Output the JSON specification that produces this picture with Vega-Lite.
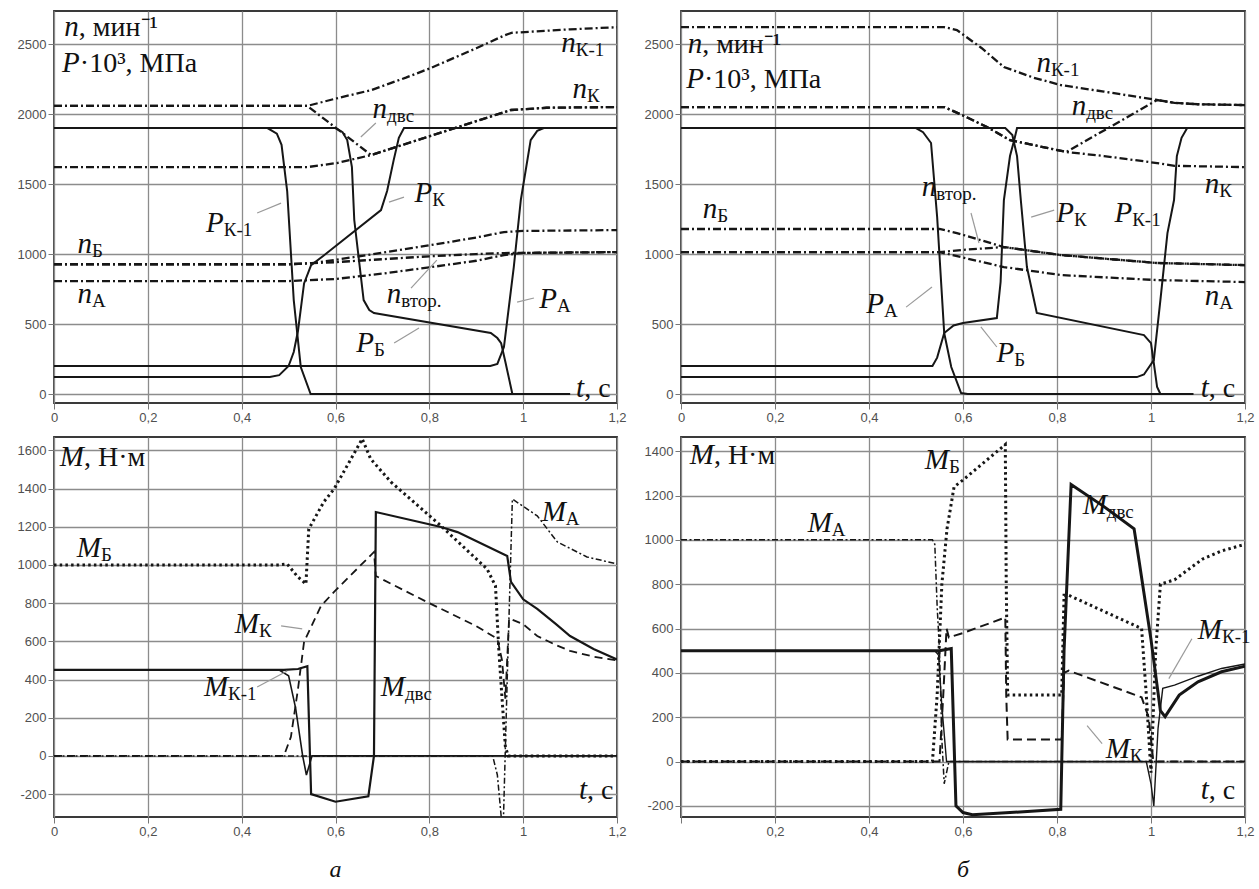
{
"$schema": "https://vega.github.io/schema/vega-lite/v6.json",
"padding": {"left": 16, "top": 10, "right": 0, "bottom": 0},
"spacing": 11,
"resolve": {"scale": {"x": "independent", "y": "independent"}},
"datasets": {
"tl": [
{"s":"nК-1","t":0,"v":2058},{"s":"nК-1","t":0.54,"v":2058},{"s":"nК-1","t":0.6,"v":2110},{"s":"nК-1","t":0.676,"v":2171},{"s":"nК-1","t":0.75,"v":2260},{"s":"nК-1","t":0.804,"v":2330},{"s":"nК-1","t":0.9,"v":2470},{"s":"nК-1","t":0.959,"v":2560},{"s":"nК-1","t":0.975,"v":2580},{"s":"nК-1","t":1.1,"v":2605},{"s":"nК-1","t":1.2,"v":2620},
{"s":"nдвс","t":0,"v":2058},{"s":"nдвс","t":0.54,"v":2058},{"s":"nдвс","t":0.676,"v":1707},{"s":"nдвс","t":0.974,"v":2029},{"s":"nдвс","t":1.05,"v":2045},{"s":"nдвс","t":1.2,"v":2050},
{"s":"nК","t":0,"v":1621},{"s":"nК","t":0.54,"v":1621},{"s":"nК","t":0.603,"v":1650},{"s":"nК","t":0.676,"v":1707},{"s":"nК","t":0.974,"v":2029},{"s":"nК","t":1.05,"v":2045},{"s":"nК","t":1.2,"v":2050},
{"s":"nБ","t":0,"v":927},{"s":"nБ","t":0.5,"v":927},{"s":"nБ","t":0.55,"v":935},{"s":"nБ","t":0.6,"v":958},{"s":"nБ","t":0.7,"v":1010},{"s":"nБ","t":0.8,"v":1062},{"s":"nБ","t":0.9,"v":1118},{"s":"nБ","t":0.959,"v":1157},{"s":"nБ","t":1.0,"v":1165},{"s":"nБ","t":1.2,"v":1171},
{"s":"nвтор","t":0,"v":927},{"s":"nвтор","t":0.5,"v":927},{"s":"nвтор","t":0.6,"v":942},{"s":"nвтор","t":0.7,"v":963},{"s":"nвтор","t":0.8,"v":984},{"s":"nвтор","t":0.9,"v":1000},{"s":"nвтор","t":0.959,"v":1007},{"s":"nвтор","t":1.2,"v":1014},
{"s":"nА","t":0,"v":807},{"s":"nА","t":0.5,"v":807},{"s":"nА","t":0.6,"v":822},{"s":"nА","t":0.7,"v":860},{"s":"nА","t":0.8,"v":905},{"s":"nА","t":0.9,"v":952},{"s":"nА","t":0.959,"v":993},{"s":"nА","t":1.0,"v":1008},{"s":"nА","t":1.2,"v":1014},
{"s":"PК-1","t":0,"v":1900},{"s":"PК-1","t":0.455,"v":1900},{"s":"PК-1","t":0.475,"v":1860},{"s":"PК-1","t":0.485,"v":1780},{"s":"PК-1","t":0.497,"v":1450},{"s":"PК-1","t":0.511,"v":671},{"s":"PК-1","t":0.526,"v":193},{"s":"PК-1","t":0.547,"v":0},{"s":"PК-1","t":1.1,"v":0},
{"s":"PК","t":0,"v":121},{"s":"PК","t":0.46,"v":121},{"s":"PК","t":0.48,"v":135},{"s":"PК","t":0.5,"v":200},{"s":"PК","t":0.511,"v":300},{"s":"PК","t":0.52,"v":450},{"s":"PК","t":0.533,"v":790},{"s":"PК","t":0.548,"v":920},{"s":"PК","t":0.575,"v":990},{"s":"PК","t":0.697,"v":1314},{"s":"PК","t":0.71,"v":1450},{"s":"PК","t":0.724,"v":1671},{"s":"PК","t":0.735,"v":1830},{"s":"PК","t":0.746,"v":1900},{"s":"PК","t":1.2,"v":1900},
{"s":"PБ","t":0,"v":1900},{"s":"PБ","t":0.6,"v":1900},{"s":"PБ","t":0.615,"v":1870},{"s":"PБ","t":0.625,"v":1814},{"s":"PБ","t":0.635,"v":1621},{"s":"PБ","t":0.64,"v":1243},{"s":"PБ","t":0.66,"v":671},{"s":"PБ","t":0.672,"v":600},{"s":"PБ","t":0.682,"v":579},{"s":"PБ","t":0.931,"v":436},{"s":"PБ","t":0.945,"v":400},{"s":"PБ","t":0.953,"v":364},{"s":"PБ","t":0.962,"v":230},{"s":"PБ","t":0.977,"v":0},{"s":"PБ","t":1.1,"v":0},
{"s":"PА","t":0,"v":200},{"s":"PА","t":0.93,"v":200},{"s":"PА","t":0.945,"v":215},{"s":"PА","t":0.959,"v":336},{"s":"PА","t":0.98,"v":907},{"s":"PА","t":0.995,"v":1386},{"s":"PА","t":1.016,"v":1814},{"s":"PА","t":1.03,"v":1880},{"s":"PА","t":1.044,"v":1900},{"s":"PА","t":1.2,"v":1900}
],
"tr": [
{"s":"nК-1","t":0,"v":2621},{"s":"nК-1","t":0.56,"v":2621},{"s":"nК-1","t":0.587,"v":2600},{"s":"nК-1","t":0.64,"v":2470},{"s":"nК-1","t":0.687,"v":2336},{"s":"nК-1","t":0.75,"v":2260},{"s":"nК-1","t":0.808,"v":2207},{"s":"nК-1","t":0.9,"v":2160},{"s":"nК-1","t":1.013,"v":2100},{"s":"nК-1","t":1.05,"v":2080},{"s":"nК-1","t":1.1,"v":2070},{"s":"nК-1","t":1.2,"v":2064},
{"s":"nдвс","t":0,"v":2050},{"s":"nдвс","t":0.56,"v":2050},{"s":"nдвс","t":0.6,"v":1990},{"s":"nдвс","t":0.651,"v":1907},{"s":"nдвс","t":0.7,"v":1814},{"s":"nдвс","t":0.82,"v":1729},{"s":"nдвс","t":1.013,"v":2100},{"s":"nдвс","t":1.05,"v":2080},{"s":"nдвс","t":1.1,"v":2070},{"s":"nдвс","t":1.2,"v":2064},
{"s":"nК","t":0,"v":2050},{"s":"nК","t":0.56,"v":2050},{"s":"nК","t":0.6,"v":1990},{"s":"nК","t":0.651,"v":1907},{"s":"nК","t":0.7,"v":1814},{"s":"nК","t":0.82,"v":1729},{"s":"nК","t":0.9,"v":1700},{"s":"nК","t":1.013,"v":1650},{"s":"nК","t":1.05,"v":1630},{"s":"nК","t":1.2,"v":1621},
{"s":"nБ","t":0,"v":1179},{"s":"nБ","t":0.55,"v":1179},{"s":"nБ","t":0.587,"v":1150},{"s":"nБ","t":0.687,"v":1050},{"s":"nБ","t":0.808,"v":993},{"s":"nБ","t":1.013,"v":936},{"s":"nБ","t":1.2,"v":921},
{"s":"nвтор","t":0,"v":1014},{"s":"nвтор","t":0.55,"v":1014},{"s":"nвтор","t":0.6,"v":1030},{"s":"nвтор","t":0.687,"v":1050},{"s":"nвтор","t":0.808,"v":993},{"s":"nвтор","t":1.013,"v":936},{"s":"nвтор","t":1.2,"v":921},
{"s":"nА","t":0,"v":1014},{"s":"nА","t":0.55,"v":1014},{"s":"nА","t":0.6,"v":975},{"s":"nА","t":0.687,"v":907},{"s":"nА","t":0.808,"v":850},{"s":"nА","t":1.013,"v":814},{"s":"nА","t":1.2,"v":800},
{"s":"PА","t":0,"v":1900},{"s":"PА","t":0.5,"v":1900},{"s":"PА","t":0.515,"v":1870},{"s":"PА","t":0.532,"v":1793},{"s":"PА","t":0.545,"v":1264},{"s":"PА","t":0.56,"v":436},{"s":"PА","t":0.575,"v":193},{"s":"PА","t":0.596,"v":7},{"s":"PА","t":0.61,"v":0},{"s":"PА","t":1.09,"v":0},
{"s":"PБ","t":0,"v":200},{"s":"PБ","t":0.535,"v":200},{"s":"PБ","t":0.545,"v":260},{"s":"PБ","t":0.56,"v":436},{"s":"PБ","t":0.58,"v":490},{"s":"PБ","t":0.6,"v":507},{"s":"PБ","t":0.672,"v":543},{"s":"PБ","t":0.68,"v":800},{"s":"PБ","t":0.687,"v":1386},{"s":"PБ","t":0.7,"v":1700},{"s":"PБ","t":0.709,"v":1814},{"s":"PБ","t":0.715,"v":1900},{"s":"PБ","t":1.2,"v":1900},
{"s":"PК","t":0,"v":1900},{"s":"PК","t":0.69,"v":1900},{"s":"PК","t":0.705,"v":1850},{"s":"PК","t":0.715,"v":1700},{"s":"PК","t":0.723,"v":1386},{"s":"PК","t":0.736,"v":907},{"s":"PК","t":0.757,"v":579},{"s":"PК","t":0.985,"v":421},{"s":"PК","t":1.0,"v":364},{"s":"PК","t":1.006,"v":221},{"s":"PК","t":1.013,"v":50},{"s":"PК","t":1.02,"v":0},{"s":"PК","t":1.09,"v":0},
{"s":"PК-1","t":0,"v":121},{"s":"PК-1","t":0.97,"v":121},{"s":"PК-1","t":0.985,"v":140},{"s":"PК-1","t":1.006,"v":243},{"s":"PК-1","t":1.02,"v":671},{"s":"PК-1","t":1.035,"v":1150},{"s":"PК-1","t":1.049,"v":1386},{"s":"PК-1","t":1.055,"v":1700},{"s":"PК-1","t":1.065,"v":1830},{"s":"PК-1","t":1.077,"v":1900},{"s":"PК-1","t":1.2,"v":1900}
],
"bl": [
{"s":"MБ","t":0,"v":1000},{"s":"MБ","t":0.48,"v":1000},{"s":"MБ","t":0.497,"v":1005},{"s":"MБ","t":0.518,"v":942},{"s":"MБ","t":0.537,"v":900},{"s":"MБ","t":0.543,"v":1188},{"s":"MБ","t":0.575,"v":1330},{"s":"MБ","t":0.597,"v":1398},{"s":"MБ","t":0.657,"v":1660},{"s":"MБ","t":0.675,"v":1555},{"s":"MБ","t":0.718,"v":1435},{"s":"MБ","t":0.825,"v":1204},{"s":"MБ","t":0.923,"v":979},{"s":"MБ","t":0.941,"v":890},{"s":"MБ","t":0.948,"v":560},{"s":"MБ","t":0.955,"v":300},{"s":"MБ","t":0.962,"v":50},{"s":"MБ","t":0.968,"v":0},{"s":"MБ","t":1.2,"v":0},
{"s":"MК","t":0,"v":0},{"s":"MК","t":0.49,"v":0},{"s":"MК","t":0.505,"v":100},{"s":"MК","t":0.52,"v":350},{"s":"MК","t":0.533,"v":597},{"s":"MК","t":0.569,"v":785},{"s":"MК","t":0.597,"v":859},{"s":"MК","t":0.682,"v":1068},{"s":"MК","t":0.686,"v":942},{"s":"MК","t":0.795,"v":806},{"s":"MК","t":0.9,"v":680},{"s":"MК","t":0.945,"v":613},{"s":"MК","t":0.955,"v":500},{"s":"MК","t":0.962,"v":300},{"s":"MК","t":0.97,"v":720},{"s":"MК","t":1.0,"v":690},{"s":"MК","t":1.03,"v":628},{"s":"MК","t":1.07,"v":580},{"s":"MК","t":1.1,"v":550},{"s":"MК","t":1.15,"v":520},{"s":"MК","t":1.2,"v":500},
{"s":"Mдвс","t":0,"v":450},{"s":"Mдвс","t":0.49,"v":450},{"s":"Mдвс","t":0.52,"v":455},{"s":"Mдвс","t":0.54,"v":470},{"s":"Mдвс","t":0.548,"v":-200},{"s":"Mдвс","t":0.6,"v":-240},{"s":"Mдвс","t":0.67,"v":-212},{"s":"Mдвс","t":0.682,"v":0},{"s":"Mдвс","t":0.686,"v":1277},{"s":"Mдвс","t":0.825,"v":1199},{"s":"Mдвс","t":0.86,"v":1172},{"s":"Mдвс","t":0.966,"v":1047},{"s":"Mдвс","t":0.974,"v":911},{"s":"Mдвс","t":1.0,"v":820},{"s":"Mдвс","t":1.03,"v":770},{"s":"Mдвс","t":1.07,"v":690},{"s":"Mдвс","t":1.1,"v":628},{"s":"Mдвс","t":1.15,"v":560},{"s":"Mдвс","t":1.2,"v":505},
{"s":"MК-1","t":0,"v":450},{"s":"MК-1","t":0.48,"v":450},{"s":"MК-1","t":0.5,"v":420},{"s":"MК-1","t":0.515,"v":250},{"s":"MК-1","t":0.53,"v":0},{"s":"MК-1","t":0.538,"v":-100},{"s":"MК-1","t":0.55,"v":0},{"s":"MК-1","t":1.2,"v":0},
{"s":"MА","t":0,"v":0},{"s":"MА","t":0.935,"v":0},{"s":"MА","t":0.945,"v":-100},{"s":"MА","t":0.957,"v":-420},{"s":"MА","t":0.966,"v":400},{"s":"MА","t":0.977,"v":1345},{"s":"MА","t":1.03,"v":1257},{"s":"MА","t":1.073,"v":1120},{"s":"MА","t":1.136,"v":1042},{"s":"MА","t":1.2,"v":1005}
],
"br": [
{"s":"MА","t":0,"v":1000},{"s":"MА","t":0.535,"v":1000},{"s":"MА","t":0.54,"v":980},{"s":"MА","t":0.545,"v":700},{"s":"MА","t":0.55,"v":500},{"s":"MА","t":0.555,"v":100},{"s":"MА","t":0.56,"v":-100},{"s":"MА","t":0.57,"v":0},{"s":"MА","t":1.2,"v":0},
{"s":"MБ","t":0,"v":0},{"s":"MБ","t":0.535,"v":0},{"s":"MБ","t":0.545,"v":300},{"s":"MБ","t":0.555,"v":800},{"s":"MБ","t":0.566,"v":1050},{"s":"MБ","t":0.581,"v":1239},{"s":"MБ","t":0.6,"v":1270},{"s":"MБ","t":0.69,"v":1430},{"s":"MБ","t":0.692,"v":800},{"s":"MБ","t":0.695,"v":300},{"s":"MБ","t":0.81,"v":300},{"s":"MБ","t":0.815,"v":750},{"s":"MБ","t":0.825,"v":750},{"s":"MБ","t":0.98,"v":600},{"s":"MБ","t":0.99,"v":300},{"s":"MБ","t":1.0,"v":-50},{"s":"MБ","t":1.01,"v":500},{"s":"MБ","t":1.02,"v":800},{"s":"MБ","t":1.05,"v":820},{"s":"MБ","t":1.11,"v":914},{"s":"MБ","t":1.15,"v":950},{"s":"MБ","t":1.2,"v":980},
{"s":"MК","t":0,"v":0},{"s":"MК","t":0.55,"v":0},{"s":"MК","t":0.558,"v":300},{"s":"MК","t":0.565,"v":600},{"s":"MК","t":0.57,"v":560},{"s":"MК","t":0.6,"v":580},{"s":"MК","t":0.69,"v":650},{"s":"MК","t":0.692,"v":300},{"s":"MК","t":0.695,"v":100},{"s":"MК","t":0.81,"v":100},{"s":"MК","t":0.815,"v":400},{"s":"MК","t":0.825,"v":410},{"s":"MК","t":0.98,"v":290},{"s":"MК","t":0.995,"v":200},{"s":"MК","t":1.005,"v":0},{"s":"MК","t":1.2,"v":0},
{"s":"Mдвс","t":0,"v":500},{"s":"Mдвс","t":0.55,"v":500},{"s":"Mдвс","t":0.575,"v":510},{"s":"Mдвс","t":0.585,"v":-200},{"s":"Mдвс","t":0.6,"v":-230},{"s":"Mдвс","t":0.62,"v":-240},{"s":"Mдвс","t":0.7,"v":-230},{"s":"Mдвс","t":0.808,"v":-215},{"s":"Mдвс","t":0.815,"v":500},{"s":"Mдвс","t":0.83,"v":1250},{"s":"Mдвс","t":0.9,"v":1150},{"s":"Mдвс","t":0.964,"v":1050},{"s":"Mдвс","t":0.975,"v":900},{"s":"Mдвс","t":1.0,"v":550},{"s":"Mдвс","t":1.02,"v":230},{"s":"Mдвс","t":1.03,"v":203},{"s":"Mдвс","t":1.06,"v":300},{"s":"Mдвс","t":1.1,"v":360},{"s":"Mдвс","t":1.15,"v":405},{"s":"Mдвс","t":1.2,"v":430},
{"s":"MК-1","t":0,"v":500},{"s":"MК-1","t":0.54,"v":500},{"s":"MК-1","t":0.548,"v":480},{"s":"MК-1","t":0.555,"v":250},{"s":"MК-1","t":0.565,"v":0},{"s":"MК-1","t":0.99,"v":0},{"s":"MК-1","t":1.0,"v":-100},{"s":"MК-1","t":1.006,"v":-200},{"s":"MК-1","t":1.015,"v":150},{"s":"MК-1","t":1.025,"v":330},{"s":"MК-1","t":1.05,"v":345},{"s":"MК-1","t":1.1,"v":385},{"s":"MК-1","t":1.15,"v":420},{"s":"MК-1","t":1.2,"v":440}
],
"lab_tl": [
{"t":0.053,"v":2557,"p":"v","txt":"n"},{"t":0.053,"v":2557,"p":"u","txt":", мин⁻¹"},
{"t":0.055,"v":2300,"p":"v","txt":"P"},{"t":0.055,"v":2300,"p":"u","txt":"·10³, МПа"},
{"t":1.112,"v":2443,"p":"v","txt":"n"},{"t":1.112,"v":2443,"p":"s","txt":"К-1"},
{"t":1.136,"v":2114,"p":"v","txt":"n"},{"t":1.136,"v":2114,"p":"s","txt":"К"},
{"t":0.71,"v":1971,"p":"v","txt":"n"},{"t":0.71,"v":1971,"p":"s","txt":"двс"},
{"t":0.806,"v":1371,"p":"v","txt":"P"},{"t":0.806,"v":1371,"p":"s","txt":"К"},
{"t":0.362,"v":1157,"p":"v","txt":"P"},{"t":0.362,"v":1157,"p":"s","txt":"К-1"},
{"t":0.081,"v":1007,"p":"v","txt":"n"},{"t":0.081,"v":1007,"p":"s","txt":"Б"},
{"t":0.081,"v":650,"p":"v","txt":"n"},{"t":0.081,"v":650,"p":"s","txt":"А"},
{"t":0.74,"v":650,"p":"v","txt":"n"},{"t":0.74,"v":650,"p":"s","txt":"втор."},
{"t":1.072,"v":614,"p":"v","txt":"P"},{"t":1.072,"v":614,"p":"s","txt":"А"},
{"t":0.682,"v":300,"p":"v","txt":"P"},{"t":0.682,"v":300,"p":"s","txt":"Б"},
{"t":1.13,"v":-21,"p":"v","txt":"t"},{"t":1.13,"v":-21,"p":"u","txt":", с"}
],
"lab_tr": [
{"t":0.045,"v":2436,"p":"v","txt":"n"},{"t":0.045,"v":2436,"p":"u","txt":", мин⁻¹"},
{"t":0.049,"v":2186,"p":"v","txt":"P"},{"t":0.049,"v":2186,"p":"u","txt":"·10³, МПа"},
{"t":0.787,"v":2300,"p":"v","txt":"n"},{"t":0.787,"v":2300,"p":"s","txt":"К-1"},
{"t":0.862,"v":1993,"p":"v","txt":"n"},{"t":0.862,"v":1993,"p":"s","txt":"двс"},
{"t":1.145,"v":1436,"p":"v","txt":"n"},{"t":1.145,"v":1436,"p":"s","txt":"К"},
{"t":0.543,"v":1414,"p":"v","txt":"n"},{"t":0.543,"v":1414,"p":"s","txt":"втор."},
{"t":0.836,"v":1229,"p":"v","txt":"P"},{"t":0.836,"v":1229,"p":"s","txt":"К"},
{"t":0.96,"v":1229,"p":"v","txt":"P"},{"t":0.96,"v":1229,"p":"s","txt":"К-1"},
{"t":0.077,"v":1257,"p":"v","txt":"n"},{"t":0.077,"v":1257,"p":"s","txt":"Б"},
{"t":0.432,"v":579,"p":"v","txt":"P"},{"t":0.432,"v":579,"p":"s","txt":"А"},
{"t":0.709,"v":229,"p":"v","txt":"P"},{"t":0.709,"v":229,"p":"s","txt":"Б"},
{"t":1.145,"v":636,"p":"v","txt":"n"},{"t":1.145,"v":636,"p":"s","txt":"А"},
{"t":1.123,"v":-21,"p":"v","txt":"t"},{"t":1.123,"v":-21,"p":"u","txt":", с"}
],
"lab_bl": [
{"t":0.064,"v":1518,"p":"v","txt":"M"},{"t":0.064,"v":1518,"p":"u","txt":", Н·м"},
{"t":0.1,"v":1042,"p":"v","txt":"M"},{"t":0.1,"v":1042,"p":"s","txt":"Б"},
{"t":0.437,"v":644,"p":"v","txt":"M"},{"t":0.437,"v":644,"p":"s","txt":"К"},
{"t":0.371,"v":314,"p":"v","txt":"M"},{"t":0.371,"v":314,"p":"s","txt":"К-1"},
{"t":0.748,"v":314,"p":"v","txt":"M"},{"t":0.748,"v":314,"p":"s","txt":"двс"},
{"t":1.091,"v":1230,"p":"v","txt":"M"},{"t":1.091,"v":1230,"p":"s","txt":"А"},
{"t":1.136,"v":-225,"p":"v","txt":"t"},{"t":1.136,"v":-225,"p":"u","txt":", с"}
],
"lab_br": [
{"t":0.07,"v":1342,"p":"v","txt":"M"},{"t":0.07,"v":1342,"p":"u","txt":", Н·м"},
{"t":0.57,"v":1320,"p":"v","txt":"M"},{"t":0.57,"v":1320,"p":"s","txt":"Б"},
{"t":0.321,"v":1036,"p":"v","txt":"M"},{"t":0.321,"v":1036,"p":"s","txt":"А"},
{"t":0.906,"v":1117,"p":"v","txt":"M"},{"t":0.906,"v":1117,"p":"s","txt":"двс"},
{"t":1.151,"v":554,"p":"v","txt":"M"},{"t":1.151,"v":554,"p":"s","txt":"К-1"},
{"t":0.955,"v":14,"p":"v","txt":"M"},{"t":0.955,"v":14,"p":"s","txt":"К"},
{"t":1.123,"v":-167,"p":"v","txt":"t"},{"t":1.123,"v":-167,"p":"u","txt":", с"}
],
"lead_tl": [
{"t":0.686,"v":1936,"t2":0.654,"v2":1836},{"t":0.746,"v":1407,"t2":0.714,"v2":1371},{"t":0.433,"v":1293,"t2":0.484,"v2":1364},{"t":0.761,"v":757,"t2":0.816,"v2":957},{"t":0.725,"v":364,"t2":0.778,"v2":471},{"t":0.987,"v":657,"t2":1.023,"v2":686}
],
"lead_tr": [
{"t":0.479,"v":621,"t2":0.534,"v2":764},{"t":0.745,"v":1264,"t2":0.794,"v2":1314},{"t":0.672,"v":336,"t2":0.638,"v2":479},{"t":0.634,"v":1079,"t2":0.617,"v2":1293}
],
"lead_bl": [
{"t":0.484,"v":681,"t2":0.529,"v2":665},{"t":0.433,"v":361,"t2":0.497,"v2":445}
],
"lead_br": [
{"t":1.087,"v":554,"t2":1.038,"v2":374},{"t":0.896,"v":81,"t2":0.864,"v2":162}
]
},
"vconcat": [
{"hconcat": [
{"width": 563, "height": 392,
 "encoding": {
  "x": {"field":"t","type":"quantitative","scale":{"domain":[0,1.2],"nice":false,"zero":false},"axis":{"values":[0,0.2,0.4,0.6,0.8,1,1.2],"labelExpr":"replace(toString(datum.value),'.',',')"}},
  "y": {"field":"v","type":"quantitative","scale":{"domain":[-64,2736],"nice":false,"zero":false},"axis":{"values":[0,500,1000,1500,2000,2500],"labelExpr":"'' + datum.value"}}
 },
 "layer": [
  {"data":{"name":"tl"},"transform":[{"filter":{"field":"s","oneOf":["nК-1","nК","nдвс","nБ","nА","nвтор"]}}],"mark":{"type":"line","clip":true,"color":"#161616","strokeWidth":2.3,"strokeDash":[8,3,2,3]},"encoding":{"detail":{"field":"s"}}},
  {"data":{"name":"tl"},"transform":[{"filter":{"field":"s","oneOf":["PК-1","PК","PБ","PА"]}}],"mark":{"type":"line","clip":true,"color":"#161616","strokeWidth":2},"encoding":{"detail":{"field":"s"}}},
  {"data":{"name":"lead_tl"},"mark":{"type":"rule","color":"#9a9a9a","strokeWidth":1.2},"encoding":{"x2":{"field":"t2"},"y2":{"field":"v2"}}},
  {"data":{"name":"lab_tl"},"transform":[{"filter":"datum.p==='v'"}],"mark":{"type":"text","fontStyle":"italic","fontSize":29,"align":"right","baseline":"alphabetic"},"encoding":{"text":{"field":"txt"}}},
  {"data":{"name":"lab_tl"},"transform":[{"filter":"datum.p==='s'"}],"mark":{"type":"text","fontSize":19,"align":"left","baseline":"alphabetic","dy":4},"encoding":{"text":{"field":"txt"}}},
  {"data":{"name":"lab_tl"},"transform":[{"filter":"datum.p==='u'"}],"mark":{"type":"text","fontSize":28,"align":"left","baseline":"alphabetic"},"encoding":{"text":{"field":"txt"}}}
 ]
},
{"width": 564, "height": 392,
 "encoding": {
  "x": {"field":"t","type":"quantitative","scale":{"domain":[0,1.2],"nice":false,"zero":false},"axis":{"values":[0,0.2,0.4,0.6,0.8,1,1.2],"labelExpr":"replace(toString(datum.value),'.',',')"}},
  "y": {"field":"v","type":"quantitative","scale":{"domain":[-64,2736],"nice":false,"zero":false},"axis":{"values":[0,500,1000,1500,2000,2500],"labelExpr":"'' + datum.value"}}
 },
 "layer": [
  {"data":{"name":"tr"},"transform":[{"filter":{"field":"s","oneOf":["nК-1","nК","nдвс","nБ","nА","nвтор"]}}],"mark":{"type":"line","clip":true,"color":"#161616","strokeWidth":2.3,"strokeDash":[8,3,2,3]},"encoding":{"detail":{"field":"s"}}},
  {"data":{"name":"tr"},"transform":[{"filter":{"field":"s","oneOf":["PК-1","PК","PБ","PА"]}}],"mark":{"type":"line","clip":true,"color":"#161616","strokeWidth":2},"encoding":{"detail":{"field":"s"}}},
  {"data":{"name":"lead_tr"},"mark":{"type":"rule","color":"#9a9a9a","strokeWidth":1.2},"encoding":{"x2":{"field":"t2"},"y2":{"field":"v2"}}},
  {"data":{"name":"lab_tr"},"transform":[{"filter":"datum.p==='v'"}],"mark":{"type":"text","fontStyle":"italic","fontSize":29,"align":"right","baseline":"alphabetic"},"encoding":{"text":{"field":"txt"}}},
  {"data":{"name":"lab_tr"},"transform":[{"filter":"datum.p==='s'"}],"mark":{"type":"text","fontSize":19,"align":"left","baseline":"alphabetic","dy":4},"encoding":{"text":{"field":"txt"}}},
  {"data":{"name":"lab_tr"},"transform":[{"filter":"datum.p==='u'"}],"mark":{"type":"text","fontSize":28,"align":"left","baseline":"alphabetic"},"encoding":{"text":{"field":"txt"}}}
 ]
}
], "spacing": 64, "bounds": "flush", "resolve": {"scale": {"x": "independent", "y": "independent"}}},
{"hconcat": [
{"width": 563, "height": 380,
 "title": {"text": "а", "orient": "bottom", "anchor": "middle", "offset": 20},
 "encoding": {
  "x": {"field":"t","type":"quantitative","scale":{"domain":[0,1.2],"nice":false,"zero":false},"axis":{"values":[0,0.2,0.4,0.6,0.8,1,1.2],"labelExpr":"replace(toString(datum.value),'.',',')"}},
  "y": {"field":"v","type":"quantitative","scale":{"domain":[-320,1670],"nice":false,"zero":false},"axis":{"values":[-200,0,200,400,600,800,1000,1200,1400,1600],"labelExpr":"'' + datum.value"}}
 },
 "layer": [
  {"data":{"name":"bl"},"transform":[{"filter":{"field":"s","equal":"MБ"}}],"mark":{"type":"line","clip":true,"color":"#161616","strokeWidth":3,"strokeDash":[2.5,3.2]},"encoding":{"detail":{"field":"s"}}},
  {"data":{"name":"bl"},"transform":[{"filter":{"field":"s","equal":"MК"}}],"mark":{"type":"line","clip":true,"color":"#161616","strokeWidth":1.8,"strokeDash":[8,5]},"encoding":{"detail":{"field":"s"}}},
  {"data":{"name":"bl"},"transform":[{"filter":{"field":"s","equal":"MА"}}],"mark":{"type":"line","clip":true,"color":"#161616","strokeWidth":1.5,"strokeDash":[6,2.5,2,2.5]},"encoding":{"detail":{"field":"s"}}},
  {"data":{"name":"bl"},"transform":[{"filter":{"field":"s","equal":"MК-1"}}],"mark":{"type":"line","clip":true,"color":"#161616","strokeWidth":1.6},"encoding":{"detail":{"field":"s"}}},
  {"data":{"name":"bl"},"transform":[{"filter":{"field":"s","equal":"Mдвс"}}],"mark":{"type":"line","clip":true,"color":"#161616","strokeWidth":2.2},"encoding":{"detail":{"field":"s"}}},
  {"data":{"name":"lead_bl"},"mark":{"type":"rule","color":"#9a9a9a","strokeWidth":1.2},"encoding":{"x2":{"field":"t2"},"y2":{"field":"v2"}}},
  {"data":{"name":"lab_bl"},"transform":[{"filter":"datum.p==='v'"}],"mark":{"type":"text","fontStyle":"italic","fontSize":29,"align":"right","baseline":"alphabetic"},"encoding":{"text":{"field":"txt"}}},
  {"data":{"name":"lab_bl"},"transform":[{"filter":"datum.p==='s'"}],"mark":{"type":"text","fontSize":19,"align":"left","baseline":"alphabetic","dy":4},"encoding":{"text":{"field":"txt"}}},
  {"data":{"name":"lab_bl"},"transform":[{"filter":"datum.p==='u'"}],"mark":{"type":"text","fontSize":28,"align":"left","baseline":"alphabetic"},"encoding":{"text":{"field":"txt"}}}
 ]
},
{"width": 564, "height": 380,
 "title": {"text": "б", "orient": "bottom", "anchor": "middle", "offset": 20},
 "encoding": {
  "x": {"field":"t","type":"quantitative","scale":{"domain":[0,1.2],"nice":false,"zero":false},"axis":{"values":[0,0.2,0.4,0.6,0.8,1,1.2],"labelExpr":"datum.value==0 ? '' : replace(toString(datum.value),'.',',')"}},
  "y": {"field":"v","type":"quantitative","scale":{"domain":[-250,1464],"nice":false,"zero":false},"axis":{"values":[-200,0,200,400,600,800,1000,1200,1400],"labelExpr":"'' + datum.value"}}
 },
 "layer": [
  {"data":{"name":"br"},"transform":[{"filter":{"field":"s","equal":"MБ"}}],"mark":{"type":"line","clip":true,"color":"#161616","strokeWidth":3,"strokeDash":[2.5,3.2]},"encoding":{"detail":{"field":"s"}}},
  {"data":{"name":"br"},"transform":[{"filter":{"field":"s","equal":"MК"}}],"mark":{"type":"line","clip":true,"color":"#161616","strokeWidth":2,"strokeDash":[9,5]},"encoding":{"detail":{"field":"s"}}},
  {"data":{"name":"br"},"transform":[{"filter":{"field":"s","equal":"MА"}}],"mark":{"type":"line","clip":true,"color":"#161616","strokeWidth":1.5,"strokeDash":[6,2.5,2,2.5]},"encoding":{"detail":{"field":"s"}}},
  {"data":{"name":"br"},"transform":[{"filter":{"field":"s","equal":"MК-1"}}],"mark":{"type":"line","clip":true,"color":"#161616","strokeWidth":1.4},"encoding":{"detail":{"field":"s"}}},
  {"data":{"name":"br"},"transform":[{"filter":{"field":"s","equal":"Mдвс"}}],"mark":{"type":"line","clip":true,"color":"#161616","strokeWidth":3},"encoding":{"detail":{"field":"s"}}},
  {"data":{"name":"lead_br"},"mark":{"type":"rule","color":"#9a9a9a","strokeWidth":1.2},"encoding":{"x2":{"field":"t2"},"y2":{"field":"v2"}}},
  {"data":{"name":"lab_br"},"transform":[{"filter":"datum.p==='v'"}],"mark":{"type":"text","fontStyle":"italic","fontSize":29,"align":"right","baseline":"alphabetic"},"encoding":{"text":{"field":"txt"}}},
  {"data":{"name":"lab_br"},"transform":[{"filter":"datum.p==='s'"}],"mark":{"type":"text","fontSize":19,"align":"left","baseline":"alphabetic","dy":4},"encoding":{"text":{"field":"txt"}}},
  {"data":{"name":"lab_br"},"transform":[{"filter":"datum.p==='u'"}],"mark":{"type":"text","fontSize":28,"align":"left","baseline":"alphabetic"},"encoding":{"text":{"field":"txt"}}}
 ]
}
], "spacing": 64, "bounds": "flush", "resolve": {"scale": {"x": "independent", "y": "independent"}}}
],
"config": {
 "view": {"stroke": "#3a3a3a", "strokeWidth": 1.8},
 "axis": {"title": null, "domain": false, "grid": true, "gridColor": "#8c8c8c", "gridWidth": 1.3, "tickColor": "#777777", "tickSize": 6, "labelFont": "Liberation Sans", "labelFontSize": 13, "labelColor": "#505050", "labelPadding": 2, "labelFlush": false, "labelOverlap": false},
 "text": {"font": "Liberation Serif", "color": "#111111"},
 "title": {"font": "Liberation Serif", "fontStyle": "italic", "fontSize": 24, "fontWeight": "normal", "color": "#111111"},
 "line": {"strokeCap": "butt", "strokeJoin": "miter"}
}
}
